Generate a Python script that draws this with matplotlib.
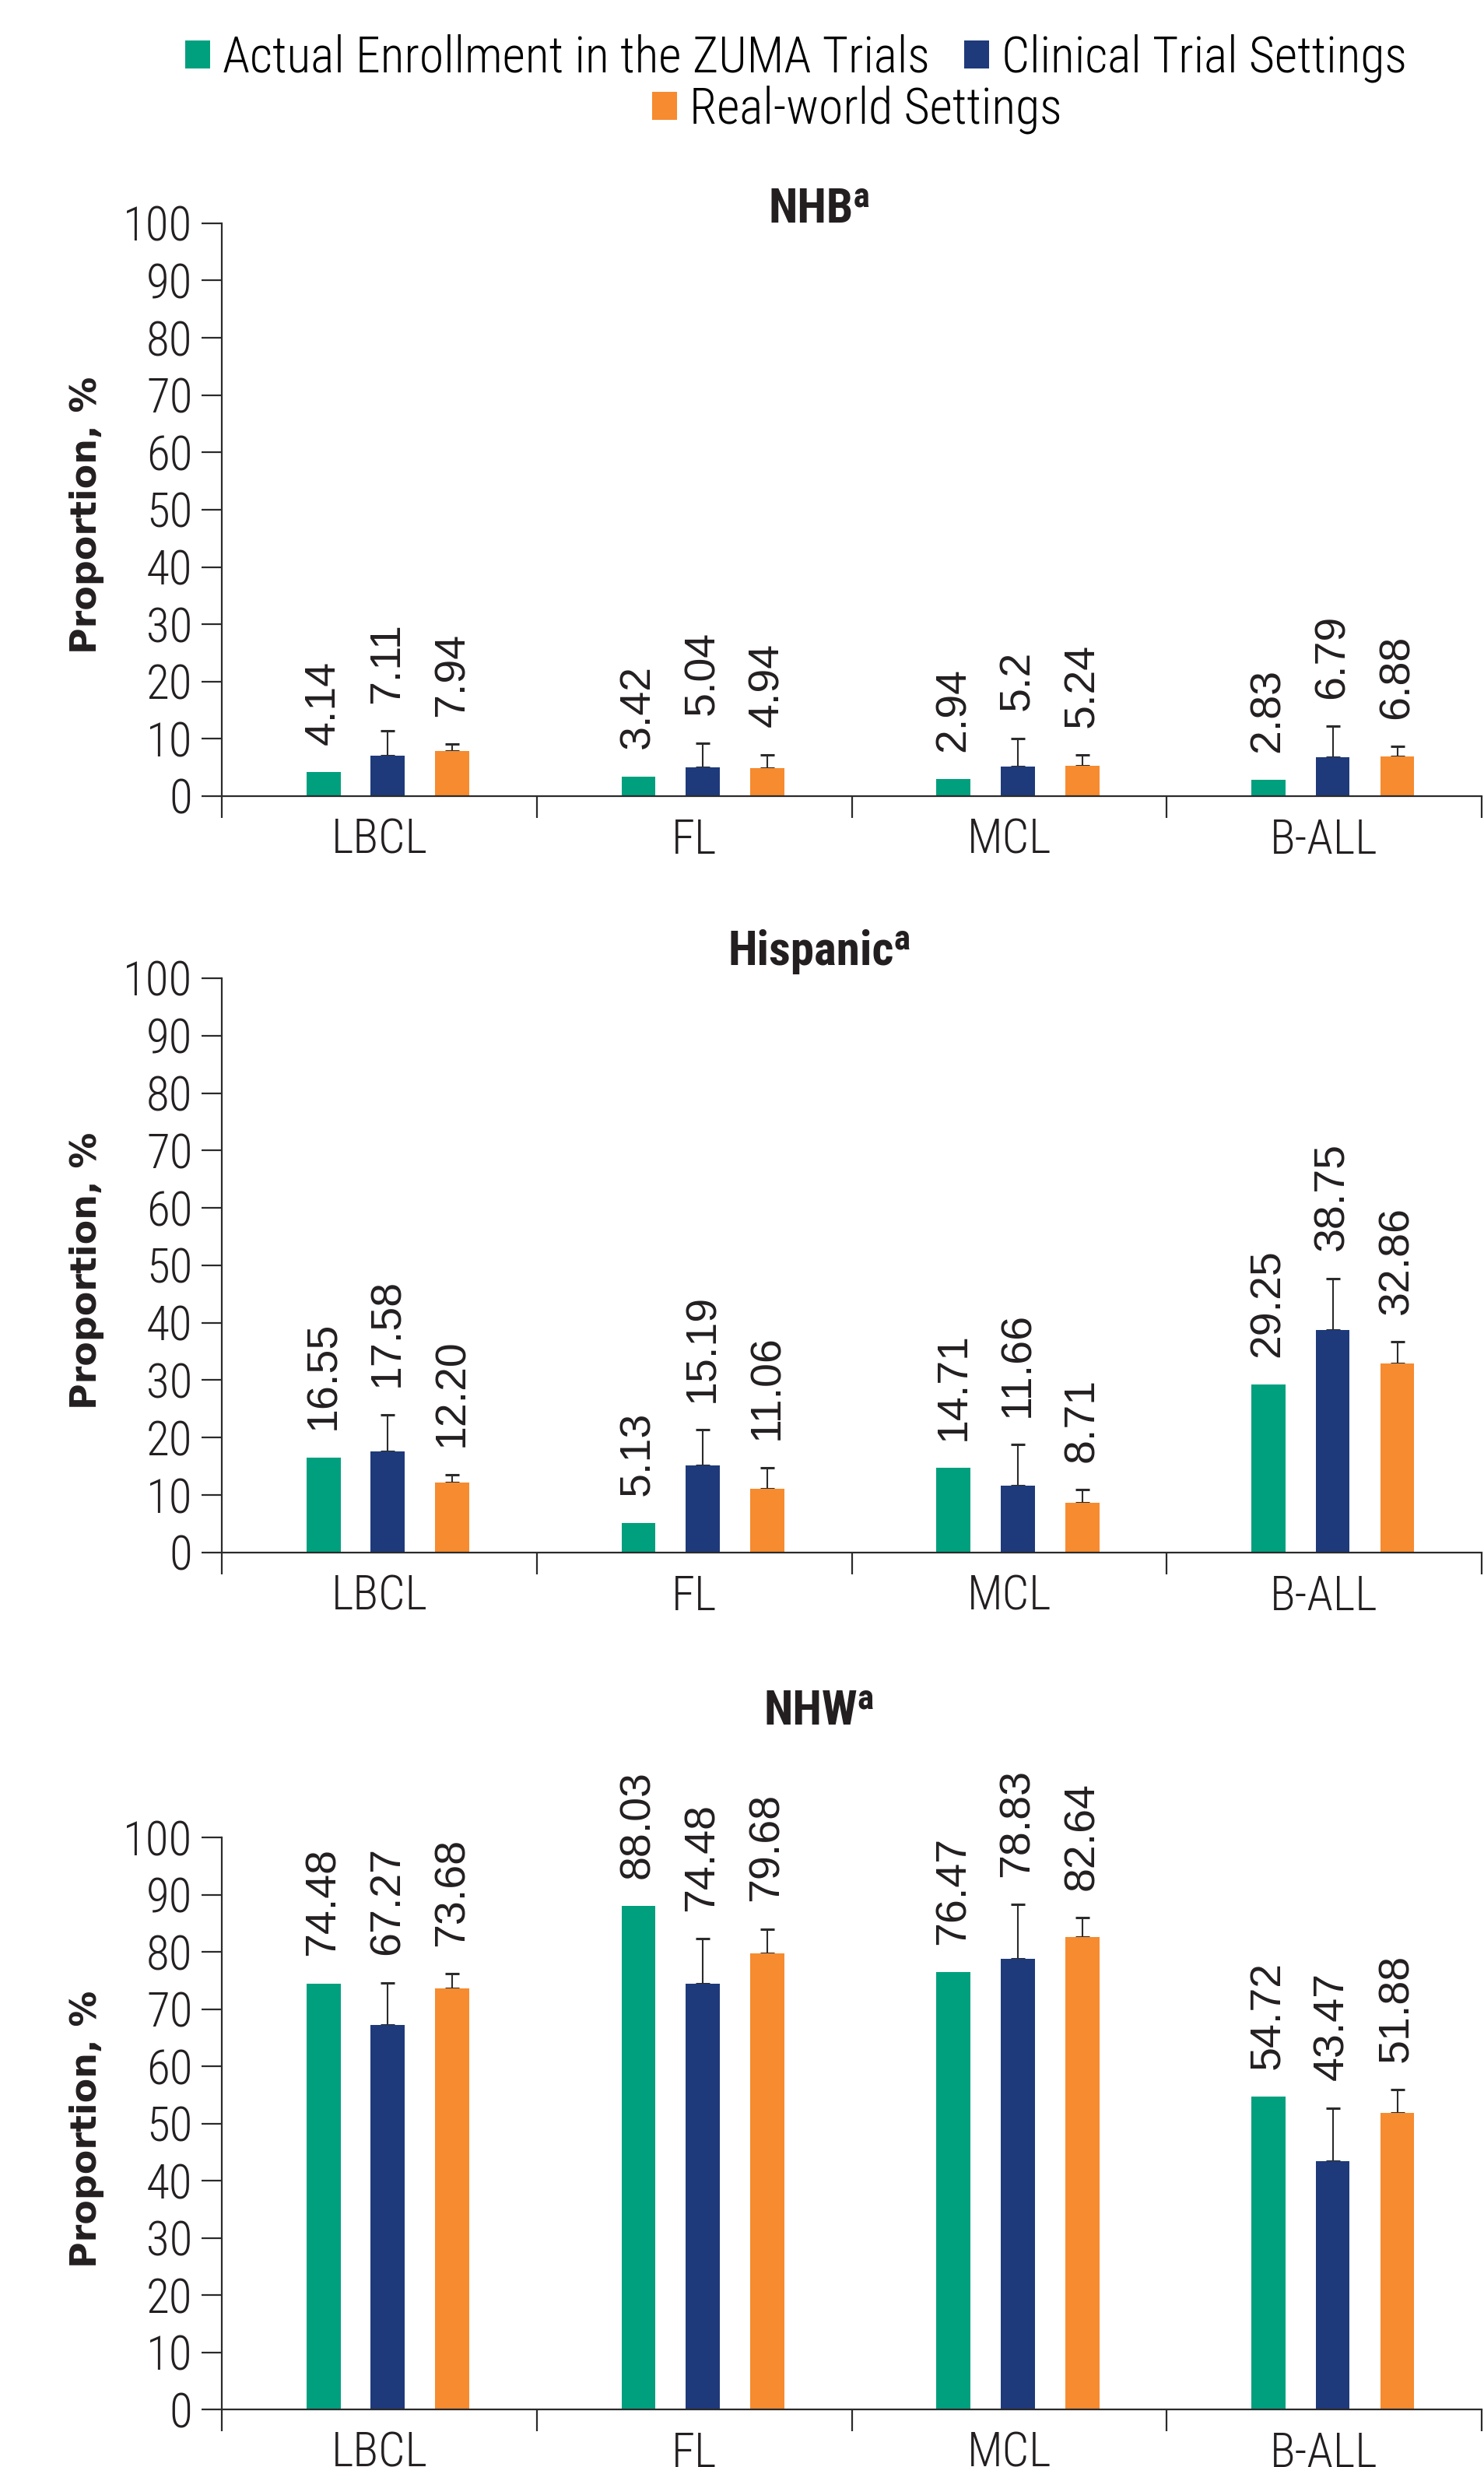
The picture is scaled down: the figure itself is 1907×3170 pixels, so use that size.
import matplotlib
matplotlib.use('Agg')
import matplotlib.pyplot as plt
from matplotlib.patches import Patch
import numpy as np

categories = ['LBCL', 'FL', 'MCL', 'B-ALL']
series_names = ['Actual Enrollment in the ZUMA Trials', 'Clinical Trial Settings', 'Real-world Settings']
colors = ['#00a07e', '#1e3a7b', '#f68b2f']
panel_titles = ['NHB\u1d43', 'Hispanic\u1d43', 'NHW\u1d43']

# NHB
nhb_zuma = [4.14, 3.42, 2.94, 2.83]
nhb_trial = [7.11, 5.04, 5.2, 6.79]
nhb_real = [7.94, 4.94, 5.24, 6.88]
nhb_trial_err = [4.24, 4.26, 4.9, 5.41]
nhb_real_err = [1.11, 2.31, 1.96, 1.82]
nhb_trial_labels = ['7.11', '5.04', '5.2', '6.79']

# Hispanic
his_zuma = [16.55, 5.13, 14.71, 29.25]
his_trial = [17.58, 15.19, 11.66, 38.75]
his_real = [12.20, 11.06, 8.71, 32.86]
his_trial_err = [6.42, 6.21, 7.14, 8.95]
his_real_err = [1.4, 3.74, 2.19, 3.84]

# NHW
nhw_zuma = [74.48, 88.03, 76.47, 54.72]
nhw_trial = [67.27, 74.48, 78.83, 43.47]
nhw_real = [73.68, 79.68, 82.64, 51.88]
nhw_trial_err = [7.33, 7.82, 9.47, 9.23]
nhw_real_err = [2.52, 4.32, 3.36, 4.02]

narrow = ['Roboto Condensed', 'DejaVu Sans']
label_font = ['Liberation Sans', 'DejaVu Sans']
line_col = '#2b2b2b'
text_col = '#231f20'

fig = plt.figure(figsize=(19.08, 31.70), dpi=100)

panels = [
    (panel_titles[0], [nhb_zuma, nhb_trial, nhb_real], [None, nhb_trial_err, nhb_real_err],
     [None, nhb_trial_labels, None], [0.6773, 0.2322], 0.9151),
    (panel_titles[1], [his_zuma, his_trial, his_real], [None, his_trial_err, his_real_err],
     [None, None, None], [0.3707, 0.2328], 0.6142),
    (panel_titles[2], [nhw_zuma, nhw_trial, nhw_real], [None, nhw_trial_err, nhw_real_err],
     [None, None, None], [0.0233, 0.2319], 0.3063),
]

offsets = [-0.177, 0.027, 0.232]
bar_w = 0.108

for title, values, errs, labels, (bottom, height), title_y in panels:
    ax = fig.add_axes([0.1494, bottom, 0.8485, height])
    x = np.arange(len(categories)) + 0.5
    for k in range(3):
        xs = x + offsets[k]
        vals = np.array(values[k])
        ax.bar(xs, vals, width=bar_w, color=colors[k], zorder=2)
        tops = vals.copy()
        if errs[k] is not None:
            e = np.array(errs[k])
            # upper error only; the lower cap hides behind the bar
            ax.errorbar(xs, vals, yerr=[np.zeros(len(e)), e], fmt='none', ecolor=line_col,
                        elinewidth=1.5, capsize=6.5, capthick=2.2, zorder=1)
            tops = vals + e
        labs = labels[k] if labels[k] is not None else [f'{v:.2f}' for v in vals]
        for xi, top, lab in zip(xs, tops, labs):
            ax.text(xi, top + 4.8, lab, rotation=90, ha='center', va='bottom',
                    fontsize=40, family=label_font, color=text_col)

    ax.set_xlim(0, 4)
    ax.set_ylim(0, 100)
    ax.set_yticks(np.arange(0, 101, 10))
    ax.set_xticks(np.arange(0, 5))
    ax.set_xticklabels([])
    ax.set_xticks(x, minor=True)
    ax.set_xticklabels(categories, minor=True)
    for lab in ax.get_xticklabels(minor=True) + ax.get_yticklabels():
        lab.set_fontfamily(narrow)
        lab.set_fontweight('light')
        lab.set_fontsize(44)
        lab.set_color(text_col)
    ax.tick_params(axis='y', direction='out', length=19, width=1.6, color=line_col, pad=8)
    ax.tick_params(axis='x', which='major', direction='out', length=20, width=1.6, color=line_col)
    ax.tick_params(axis='x', which='minor', length=0, pad=20)
    for side in ['top', 'right']:
        ax.spines[side].set_visible(False)
    for side in ['left', 'bottom']:
        ax.spines[side].set_linewidth(1.6)
        ax.spines[side].set_color(line_col)

    ax.text(-0.1075, 0.49, 'Proportion, %', transform=ax.transAxes, rotation=90,
            ha='center', va='center', fontsize=33, fontweight='bold', color=text_col)
    fig.text(0.552, title_y, title, ha='center', va='center', fontsize=44, fontweight='bold',
             family=narrow, color=text_col)

handles = [Patch(facecolor=c, edgecolor='none') for c in colors]
leg_kw = dict(frameon=False, prop={'family': narrow, 'size': 46, 'weight': 'light'}, handlelength=0.5,
              handleheight=0.5, handletextpad=0.25, columnspacing=0.7, borderpad=0, borderaxespad=0)
fig.legend(handles[:2], series_names[:2], ncol=2, loc='center',
           bbox_to_anchor=(0.536, 0.9764), **leg_kw)
fig.legend(handles[2:], series_names[2:], ncol=1, loc='center',
           bbox_to_anchor=(0.577, 0.9556), **leg_kw)

fig.savefig('out.png', dpi=100)
